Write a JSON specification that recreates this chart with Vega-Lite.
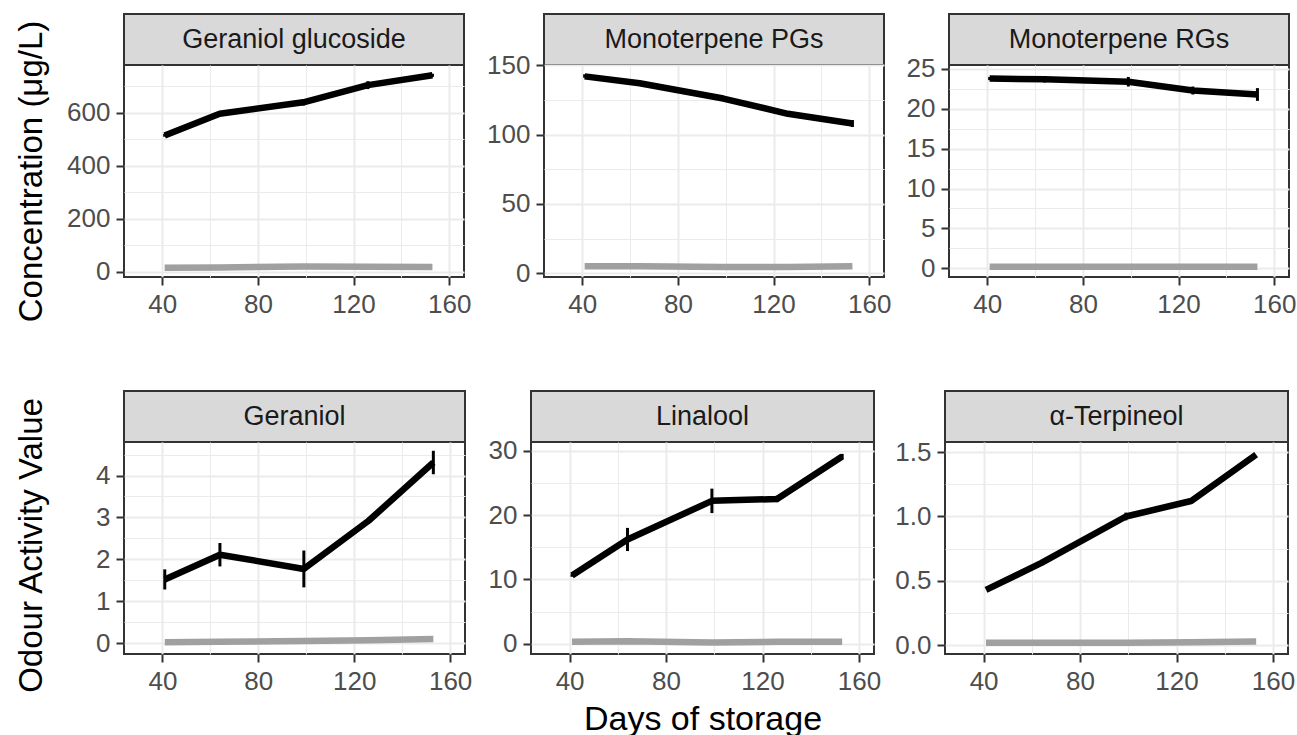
{
  "$schema": "https://vega.github.io/schema/vega-lite/v6.json",
  "background": "white",
  "padding": {"left": 13, "top": 13, "right": 5, "bottom": 0},
  "datasets": {
    "panels": [
      {"panel": "Geraniol glucoside"},
      {"panel": "Monoterpene PGs"},
      {"panel": "Monoterpene RGs"},
      {"panel": "Geraniol"},
      {"panel": "Linalool"},
      {"panel": "α-Terpineol"}
    ],
    "obs": [
      {"panel": "Geraniol glucoside", "series": "Series 1", "day": 41, "value": 515, "lo": 510, "hi": 520},
      {"panel": "Geraniol glucoside", "series": "Series 1", "day": 64, "value": 597, "lo": 593, "hi": 601},
      {"panel": "Geraniol glucoside", "series": "Series 1", "day": 99, "value": 640, "lo": 628, "hi": 652},
      {"panel": "Geraniol glucoside", "series": "Series 1", "day": 126, "value": 705, "lo": 690, "hi": 720},
      {"panel": "Geraniol glucoside", "series": "Series 1", "day": 153, "value": 742, "lo": 736, "hi": 748},
      {"panel": "Geraniol glucoside", "series": "Series 2", "day": 41, "value": 15},
      {"panel": "Geraniol glucoside", "series": "Series 2", "day": 64, "value": 16},
      {"panel": "Geraniol glucoside", "series": "Series 2", "day": 99, "value": 20},
      {"panel": "Geraniol glucoside", "series": "Series 2", "day": 126, "value": 19},
      {"panel": "Geraniol glucoside", "series": "Series 2", "day": 153, "value": 18},
      {"panel": "Monoterpene PGs", "series": "Series 1", "day": 41, "value": 142, "lo": 141, "hi": 143.5},
      {"panel": "Monoterpene PGs", "series": "Series 1", "day": 64, "value": 137, "lo": 135.5, "hi": 138.5},
      {"panel": "Monoterpene PGs", "series": "Series 1", "day": 99, "value": 126, "lo": 125, "hi": 127},
      {"panel": "Monoterpene PGs", "series": "Series 1", "day": 126, "value": 115, "lo": 114, "hi": 116},
      {"panel": "Monoterpene PGs", "series": "Series 1", "day": 153, "value": 108, "lo": 105.5, "hi": 110.5},
      {"panel": "Monoterpene PGs", "series": "Series 2", "day": 41, "value": 5},
      {"panel": "Monoterpene PGs", "series": "Series 2", "day": 64, "value": 5},
      {"panel": "Monoterpene PGs", "series": "Series 2", "day": 99, "value": 4.5},
      {"panel": "Monoterpene PGs", "series": "Series 2", "day": 126, "value": 4.5},
      {"panel": "Monoterpene PGs", "series": "Series 2", "day": 153, "value": 5},
      {"panel": "Monoterpene RGs", "series": "Series 1", "day": 41, "value": 23.8, "lo": 23.6, "hi": 24.0},
      {"panel": "Monoterpene RGs", "series": "Series 1", "day": 64, "value": 23.7, "lo": 23.3, "hi": 24.1},
      {"panel": "Monoterpene RGs", "series": "Series 1", "day": 99, "value": 23.4, "lo": 22.8, "hi": 24.0},
      {"panel": "Monoterpene RGs", "series": "Series 1", "day": 126, "value": 22.3, "lo": 21.8, "hi": 22.8},
      {"panel": "Monoterpene RGs", "series": "Series 1", "day": 153, "value": 21.8, "lo": 21.0, "hi": 22.6},
      {"panel": "Monoterpene RGs", "series": "Series 2", "day": 41, "value": 0.2},
      {"panel": "Monoterpene RGs", "series": "Series 2", "day": 64, "value": 0.2},
      {"panel": "Monoterpene RGs", "series": "Series 2", "day": 99, "value": 0.2},
      {"panel": "Monoterpene RGs", "series": "Series 2", "day": 126, "value": 0.2},
      {"panel": "Monoterpene RGs", "series": "Series 2", "day": 153, "value": 0.2},
      {"panel": "Geraniol", "series": "Series 1", "day": 41, "value": 1.52, "lo": 1.28, "hi": 1.76},
      {"panel": "Geraniol", "series": "Series 1", "day": 64, "value": 2.11, "lo": 1.83, "hi": 2.39},
      {"panel": "Geraniol", "series": "Series 1", "day": 99, "value": 1.77, "lo": 1.33, "hi": 2.21},
      {"panel": "Geraniol", "series": "Series 1", "day": 126, "value": 2.92, "lo": 2.85, "hi": 2.99},
      {"panel": "Geraniol", "series": "Series 1", "day": 153, "value": 4.31, "lo": 4.03, "hi": 4.59},
      {"panel": "Geraniol", "series": "Series 2", "day": 41, "value": 0.02},
      {"panel": "Geraniol", "series": "Series 2", "day": 64, "value": 0.03},
      {"panel": "Geraniol", "series": "Series 2", "day": 99, "value": 0.05},
      {"panel": "Geraniol", "series": "Series 2", "day": 126, "value": 0.07},
      {"panel": "Geraniol", "series": "Series 2", "day": 153, "value": 0.1},
      {"panel": "Linalool", "series": "Series 1", "day": 41, "value": 10.6, "lo": 10.4, "hi": 10.8},
      {"panel": "Linalool", "series": "Series 1", "day": 64, "value": 16.2, "lo": 14.4, "hi": 18.0},
      {"panel": "Linalool", "series": "Series 1", "day": 99, "value": 22.2, "lo": 20.3, "hi": 24.1},
      {"panel": "Linalool", "series": "Series 1", "day": 126, "value": 22.5, "lo": 22.0, "hi": 23.0},
      {"panel": "Linalool", "series": "Series 1", "day": 153, "value": 29.1, "lo": 28.7, "hi": 29.5},
      {"panel": "Linalool", "series": "Series 2", "day": 41, "value": 0.3},
      {"panel": "Linalool", "series": "Series 2", "day": 64, "value": 0.4},
      {"panel": "Linalool", "series": "Series 2", "day": 99, "value": 0.2},
      {"panel": "Linalool", "series": "Series 2", "day": 126, "value": 0.3},
      {"panel": "Linalool", "series": "Series 2", "day": 153, "value": 0.3},
      {"panel": "α-Terpineol", "series": "Series 1", "day": 41, "value": 0.43},
      {"panel": "α-Terpineol", "series": "Series 1", "day": 64, "value": 0.64},
      {"panel": "α-Terpineol", "series": "Series 1", "day": 99, "value": 1.0, "lo": 0.97, "hi": 1.03},
      {"panel": "α-Terpineol", "series": "Series 1", "day": 126, "value": 1.12},
      {"panel": "α-Terpineol", "series": "Series 1", "day": 153, "value": 1.48},
      {"panel": "α-Terpineol", "series": "Series 2", "day": 41, "value": 0.02},
      {"panel": "α-Terpineol", "series": "Series 2", "day": 64, "value": 0.02},
      {"panel": "α-Terpineol", "series": "Series 2", "day": 99, "value": 0.02},
      {"panel": "α-Terpineol", "series": "Series 2", "day": 126, "value": 0.025},
      {"panel": "α-Terpineol", "series": "Series 2", "day": 153, "value": 0.03}
    ]
  },
  "spacing": 67,
  "vconcat": [
    {
      "spacing": 13,
      "hconcat": [
        {
          "spacing": 0, "bounds": "flush",
          "vconcat": [
            {"width": 340, "height": 51, "view": {"fill": "#D9D9D9", "stroke": "#333333", "strokeWidth": 2}, "data": {"name": "panels"}, "transform": [{"filter": "datum.panel === 'Geraniol glucoside'"}], "mark": {"type": "text", "fontSize": 27, "color": "#1A1A1A"}, "encoding": {"text": {"field": "panel", "type": "nominal"}}},
            {"width": 340, "height": 212, "data": {"name": "obs"}, "transform": [{"filter": "datum.panel === 'Geraniol glucoside'"}],
             "encoding": {"x": {"field": "day", "type": "quantitative", "scale": {"domain": [24, 166.2], "nice": false, "zero": false}, "title": null,
               "axis": {"values": [40, 60, 80, 100, 120, 140, 160], "labelExpr": "datum.value % 40 === 0 ? datum.label : ''", "tickColor": {"condition": {"test": "datum.value % 40 === 0", "value": "#333333"}, "value": "transparent"}, "gridWidth": {"condition": {"test": "datum.value % 40 === 0", "value": 2}, "value": 1}}}},
             "layer": [
               {"mark": {"type": "line", "strokeWidth": 6.5, "strokeJoin": "round"},
                "encoding": {"y": {"field": "value", "type": "quantitative", "scale": {"domain": [-20, 781], "nice": false, "zero": false},
                  "axis": {"title": "Concentration (μg/L)", "titleX": -83, "titleBaseline": "alphabetic", "titleAngle": 270, "values": [0, 100, 200, 300, 400, 500, 600, 700], "labelExpr": "datum.value % 200 === 0 ? format(datum.value, 'd') : ''", "tickColor": {"condition": {"test": "datum.value % 200 === 0", "value": "#333333"}, "value": "transparent"}, "gridWidth": {"condition": {"test": "datum.value % 200 === 0", "value": 2}, "value": 1}}},
                  "color": {"field": "series", "type": "nominal", "scale": {"domain": ["Series 1", "Series 2"], "range": ["#000000", "#A0A0A0"]}, "legend": null}}},
               {"transform": [{"filter": "isValid(datum.lo)"}], "mark": {"type": "rule", "strokeWidth": 3, "color": "#000000"},
                "encoding": {"y": {"field": "lo", "type": "quantitative",
                  "axis": {"title": "Concentration (μg/L)", "titleX": -83, "titleBaseline": "alphabetic", "titleAngle": 270, "values": [0, 100, 200, 300, 400, 500, 600, 700], "labelExpr": "datum.value % 200 === 0 ? format(datum.value, 'd') : ''", "tickColor": {"condition": {"test": "datum.value % 200 === 0", "value": "#333333"}, "value": "transparent"}, "gridWidth": {"condition": {"test": "datum.value % 200 === 0", "value": 2}, "value": 1}}},
                  "y2": {"field": "hi"}}}
             ]}
          ]
        },
        {
          "spacing": 13,
          "hconcat": [
            {
              "spacing": 0, "bounds": "flush",
              "vconcat": [
                {"width": 340, "height": 51, "view": {"fill": "#D9D9D9", "stroke": "#333333", "strokeWidth": 2}, "data": {"name": "panels"}, "transform": [{"filter": "datum.panel === 'Monoterpene PGs'"}], "mark": {"type": "text", "fontSize": 27, "color": "#1A1A1A"}, "encoding": {"text": {"field": "panel", "type": "nominal"}}},
                {"width": 340, "height": 212, "data": {"name": "obs"}, "transform": [{"filter": "datum.panel === 'Monoterpene PGs'"}],
                 "encoding": {"x": {"field": "day", "type": "quantitative", "scale": {"domain": [24, 166.2], "nice": false, "zero": false}, "title": null,
                   "axis": {"values": [40, 60, 80, 100, 120, 140, 160], "labelExpr": "datum.value % 40 === 0 ? datum.label : ''", "tickColor": {"condition": {"test": "datum.value % 40 === 0", "value": "#333333"}, "value": "transparent"}, "gridWidth": {"condition": {"test": "datum.value % 40 === 0", "value": 2}, "value": 1}}}},
                 "layer": [
                   {"mark": {"type": "line", "strokeWidth": 6.5, "strokeJoin": "round"},
                    "encoding": {"y": {"field": "value", "type": "quantitative", "scale": {"domain": [-2.7, 150.2], "nice": false, "zero": false}, "title": null,
                      "axis": {"values": [0, 25, 50, 75, 100, 125, 150], "labelExpr": "datum.value % 50 === 0 ? format(datum.value, 'd') : ''", "tickColor": {"condition": {"test": "datum.value % 50 === 0", "value": "#333333"}, "value": "transparent"}, "gridWidth": {"condition": {"test": "datum.value % 50 === 0", "value": 2}, "value": 1}}},
                      "color": {"field": "series", "type": "nominal", "scale": {"domain": ["Series 1", "Series 2"], "range": ["#000000", "#A0A0A0"]}, "legend": null}}},
                   {"transform": [{"filter": "isValid(datum.lo)"}], "mark": {"type": "rule", "strokeWidth": 3, "color": "#000000"},
                    "encoding": {"y": {"field": "lo", "type": "quantitative", "title": null,
                      "axis": {"values": [0, 25, 50, 75, 100, 125, 150], "labelExpr": "datum.value % 50 === 0 ? format(datum.value, 'd') : ''", "tickColor": {"condition": {"test": "datum.value % 50 === 0", "value": "#333333"}, "value": "transparent"}, "gridWidth": {"condition": {"test": "datum.value % 50 === 0", "value": 2}, "value": 1}}},
                      "y2": {"field": "hi"}}}
                 ]}
              ]
            },
            {
              "spacing": 0, "bounds": "flush",
              "vconcat": [
                {"width": 340, "height": 51, "view": {"fill": "#D9D9D9", "stroke": "#333333", "strokeWidth": 2}, "data": {"name": "panels"}, "transform": [{"filter": "datum.panel === 'Monoterpene RGs'"}], "mark": {"type": "text", "fontSize": 27, "color": "#1A1A1A"}, "encoding": {"text": {"field": "panel", "type": "nominal"}}},
                {"width": 340, "height": 212, "data": {"name": "obs"}, "transform": [{"filter": "datum.panel === 'Monoterpene RGs'"}],
                 "encoding": {"x": {"field": "day", "type": "quantitative", "scale": {"domain": [24, 166.2], "nice": false, "zero": false}, "title": null,
                   "axis": {"values": [40, 60, 80, 100, 120, 140, 160], "labelExpr": "datum.value % 40 === 0 ? datum.label : ''", "tickColor": {"condition": {"test": "datum.value % 40 === 0", "value": "#333333"}, "value": "transparent"}, "gridWidth": {"condition": {"test": "datum.value % 40 === 0", "value": 2}, "value": 1}}}},
                 "layer": [
                   {"mark": {"type": "line", "strokeWidth": 6.5, "strokeJoin": "round"},
                    "encoding": {"y": {"field": "value", "type": "quantitative", "scale": {"domain": [-1.1, 25.5], "nice": false, "zero": false}, "title": null,
                      "axis": {"values": [0, 2.5, 5, 7.5, 10, 12.5, 15, 17.5, 20, 22.5, 25], "labelExpr": "datum.value % 5 === 0 ? format(datum.value, 'd') : ''", "tickColor": {"condition": {"test": "datum.value % 5 === 0", "value": "#333333"}, "value": "transparent"}, "gridWidth": {"condition": {"test": "datum.value % 5 === 0", "value": 2}, "value": 1}}},
                      "color": {"field": "series", "type": "nominal", "scale": {"domain": ["Series 1", "Series 2"], "range": ["#000000", "#A0A0A0"]}, "legend": null}}},
                   {"transform": [{"filter": "isValid(datum.lo)"}], "mark": {"type": "rule", "strokeWidth": 3, "color": "#000000"},
                    "encoding": {"y": {"field": "lo", "type": "quantitative", "title": null,
                      "axis": {"values": [0, 2.5, 5, 7.5, 10, 12.5, 15, 17.5, 20, 22.5, 25], "labelExpr": "datum.value % 5 === 0 ? format(datum.value, 'd') : ''", "tickColor": {"condition": {"test": "datum.value % 5 === 0", "value": "#333333"}, "value": "transparent"}, "gridWidth": {"condition": {"test": "datum.value % 5 === 0", "value": 2}, "value": 1}}},
                      "y2": {"field": "hi"}}}
                 ]}
              ]
            }
          ]
        }
      ]
    },
    {
      "spacing": 14,
      "hconcat": [
        {
          "spacing": 0, "bounds": "flush",
          "vconcat": [
            {"width": 341, "height": 51, "view": {"fill": "#D9D9D9", "stroke": "#333333", "strokeWidth": 2}, "data": {"name": "panels"}, "transform": [{"filter": "datum.panel === 'Geraniol'"}], "mark": {"type": "text", "fontSize": 27, "color": "#1A1A1A"}, "encoding": {"text": {"field": "panel", "type": "nominal"}}},
            {"width": 341, "height": 212, "data": {"name": "obs"}, "transform": [{"filter": "datum.panel === 'Geraniol'"}],
             "encoding": {"x": {"field": "day", "type": "quantitative", "scale": {"domain": [24, 166.2], "nice": false, "zero": false}, "title": null,
               "axis": {"values": [40, 60, 80, 100, 120, 140, 160], "labelExpr": "datum.value % 40 === 0 ? datum.label : ''", "tickColor": {"condition": {"test": "datum.value % 40 === 0", "value": "#333333"}, "value": "transparent"}, "gridWidth": {"condition": {"test": "datum.value % 40 === 0", "value": 2}, "value": 1}}}},
             "layer": [
               {"mark": {"type": "line", "strokeWidth": 6.5, "strokeJoin": "round"},
                "encoding": {"y": {"field": "value", "type": "quantitative", "scale": {"domain": [-0.26, 4.8], "nice": false, "zero": false},
                  "axis": {"title": "Odour Activity Value", "titleX": -83, "titleY": 103, "titleBaseline": "alphabetic", "titleAngle": 270, "values": [0, 0.5, 1, 1.5, 2, 2.5, 3, 3.5, 4, 4.5], "labelExpr": "datum.value % 1 === 0 ? format(datum.value, 'd') : ''", "tickColor": {"condition": {"test": "datum.value % 1 === 0", "value": "#333333"}, "value": "transparent"}, "gridWidth": {"condition": {"test": "datum.value % 1 === 0", "value": 2}, "value": 1}}},
                  "color": {"field": "series", "type": "nominal", "scale": {"domain": ["Series 1", "Series 2"], "range": ["#000000", "#A0A0A0"]}, "legend": null}}},
               {"transform": [{"filter": "isValid(datum.lo)"}], "mark": {"type": "rule", "strokeWidth": 3, "color": "#000000"},
                "encoding": {"y": {"field": "lo", "type": "quantitative",
                  "axis": {"title": "Odour Activity Value", "titleX": -83, "titleY": 103, "titleBaseline": "alphabetic", "titleAngle": 270, "values": [0, 0.5, 1, 1.5, 2, 2.5, 3, 3.5, 4, 4.5], "labelExpr": "datum.value % 1 === 0 ? format(datum.value, 'd') : ''", "tickColor": {"condition": {"test": "datum.value % 1 === 0", "value": "#333333"}, "value": "transparent"}, "gridWidth": {"condition": {"test": "datum.value % 1 === 0", "value": 2}, "value": 1}}},
                  "y2": {"field": "hi"}}}
             ]}
          ]
        },
        {
          "spacing": 11,
          "hconcat": [
            {
              "spacing": 0, "bounds": "flush",
              "vconcat": [
                {"width": 343, "height": 51, "view": {"fill": "#D9D9D9", "stroke": "#333333", "strokeWidth": 2}, "data": {"name": "panels"}, "transform": [{"filter": "datum.panel === 'Linalool'"}], "mark": {"type": "text", "fontSize": 27, "color": "#1A1A1A"}, "encoding": {"text": {"field": "panel", "type": "nominal"}}},
                {"width": 343, "height": 212, "data": {"name": "obs"}, "transform": [{"filter": "datum.panel === 'Linalool'"}],
                 "encoding": {"x": {"field": "day", "type": "quantitative", "scale": {"domain": [24, 166.2], "nice": false, "zero": false},
                   "axis": {"title": "Days of storage", "titlePadding": 8, "titleFontSize": 34, "values": [40, 60, 80, 100, 120, 140, 160], "labelExpr": "datum.value % 40 === 0 ? datum.label : ''", "tickColor": {"condition": {"test": "datum.value % 40 === 0", "value": "#333333"}, "value": "transparent"}, "gridWidth": {"condition": {"test": "datum.value % 40 === 0", "value": 2}, "value": 1}}}},
                 "layer": [
                   {"mark": {"type": "line", "strokeWidth": 6.5, "strokeJoin": "round"},
                    "encoding": {"y": {"field": "value", "type": "quantitative", "scale": {"domain": [-1.6, 31.35], "nice": false, "zero": false}, "title": null,
                      "axis": {"values": [0, 5, 10, 15, 20, 25, 30], "labelExpr": "datum.value % 10 === 0 ? format(datum.value, 'd') : ''", "tickColor": {"condition": {"test": "datum.value % 10 === 0", "value": "#333333"}, "value": "transparent"}, "gridWidth": {"condition": {"test": "datum.value % 10 === 0", "value": 2}, "value": 1}}},
                      "color": {"field": "series", "type": "nominal", "scale": {"domain": ["Series 1", "Series 2"], "range": ["#000000", "#A0A0A0"]}, "legend": null}}},
                   {"transform": [{"filter": "isValid(datum.lo)"}], "mark": {"type": "rule", "strokeWidth": 3, "color": "#000000"},
                    "encoding": {"y": {"field": "lo", "type": "quantitative", "title": null,
                      "axis": {"values": [0, 5, 10, 15, 20, 25, 30], "labelExpr": "datum.value % 10 === 0 ? format(datum.value, 'd') : ''", "tickColor": {"condition": {"test": "datum.value % 10 === 0", "value": "#333333"}, "value": "transparent"}, "gridWidth": {"condition": {"test": "datum.value % 10 === 0", "value": 2}, "value": 1}}},
                      "y2": {"field": "hi"}}}
                 ]}
              ]
            },
            {
              "spacing": 0, "bounds": "flush",
              "vconcat": [
                {"width": 343, "height": 51, "view": {"fill": "#D9D9D9", "stroke": "#333333", "strokeWidth": 2}, "data": {"name": "panels"}, "transform": [{"filter": "datum.panel === 'α-Terpineol'"}], "mark": {"type": "text", "fontSize": 27, "color": "#1A1A1A"}, "encoding": {"text": {"field": "panel", "type": "nominal"}}},
                {"width": 343, "height": 212, "data": {"name": "obs"}, "transform": [{"filter": "datum.panel === 'α-Terpineol'"}],
                 "encoding": {"x": {"field": "day", "type": "quantitative", "scale": {"domain": [24, 166.2], "nice": false, "zero": false}, "title": null,
                   "axis": {"values": [40, 60, 80, 100, 120, 140, 160], "labelExpr": "datum.value % 40 === 0 ? datum.label : ''", "tickColor": {"condition": {"test": "datum.value % 40 === 0", "value": "#333333"}, "value": "transparent"}, "gridWidth": {"condition": {"test": "datum.value % 40 === 0", "value": 2}, "value": 1}}}},
                 "layer": [
                   {"mark": {"type": "line", "strokeWidth": 6.5, "strokeJoin": "round"},
                    "encoding": {"y": {"field": "value", "type": "quantitative", "scale": {"domain": [-0.067, 1.578], "nice": false, "zero": false}, "title": null,
                      "axis": {"values": [0, 0.25, 0.5, 0.75, 1, 1.25, 1.5], "labelExpr": "datum.value % 0.5 === 0 ? format(datum.value, '.1f') : ''", "tickColor": {"condition": {"test": "datum.value % 0.5 === 0", "value": "#333333"}, "value": "transparent"}, "gridWidth": {"condition": {"test": "datum.value % 0.5 === 0", "value": 2}, "value": 1}}},
                      "color": {"field": "series", "type": "nominal", "scale": {"domain": ["Series 1", "Series 2"], "range": ["#000000", "#A0A0A0"]}, "legend": null}}},
                   {"transform": [{"filter": "isValid(datum.lo)"}], "mark": {"type": "rule", "strokeWidth": 3, "color": "#000000"},
                    "encoding": {"y": {"field": "lo", "type": "quantitative", "title": null,
                      "axis": {"values": [0, 0.25, 0.5, 0.75, 1, 1.25, 1.5], "labelExpr": "datum.value % 0.5 === 0 ? format(datum.value, '.1f') : ''", "tickColor": {"condition": {"test": "datum.value % 0.5 === 0", "value": "#333333"}, "value": "transparent"}, "gridWidth": {"condition": {"test": "datum.value % 0.5 === 0", "value": 2}, "value": 1}}},
                      "y2": {"field": "hi"}}}
                 ]}
              ]
            }
          ]
        }
      ]
    }
  ],
  "config": {
    "font": "Liberation Sans",
    "view": {"stroke": "#333333", "strokeWidth": 2},
    "axis": {"domain": false, "labelFontSize": 26, "labelColor": "#4D4D4D", "tickWidth": 2, "tickSize": 8, "labelPadding": 6, "gridColor": "#EBEBEB", "titleFontSize": 33, "titleFontWeight": "normal", "titleColor": "#000000", "labelFont": "Liberation Sans", "titleFont": "Liberation Sans"}
  }
}
